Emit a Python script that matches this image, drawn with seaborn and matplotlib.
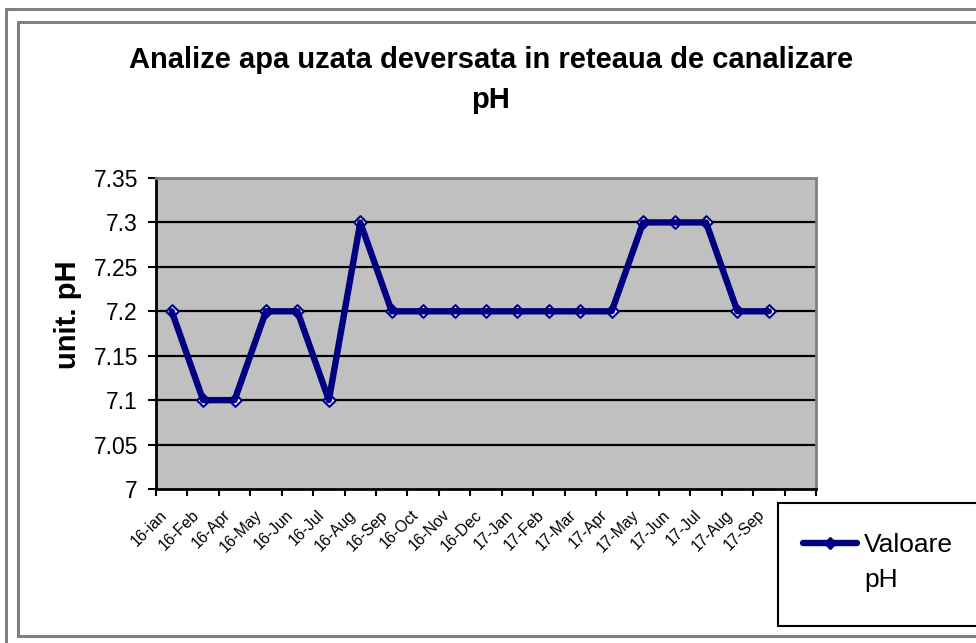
import matplotlib
matplotlib.use("Agg")
import matplotlib.pyplot as plt
from matplotlib.patches import Rectangle
from matplotlib.lines import Line2D
import seaborn as sns
import numpy as np

# ---- data ----
months = ["16-ian", "16-Feb", "16-Apr", "16-May", "16-Jun", "16-Jul", "16-Aug",
          "16-Sep", "16-Oct", "16-Nov", "16-Dec", "17-Jan", "17-Feb", "17-Mar",
          "17-Apr", "17-May", "17-Jun", "17-Jul", "17-Aug", "17-Sep"]
ph_values = [7.2, 7.1, 7.1, 7.2, 7.2, 7.1, 7.3, 7.2, 7.2, 7.2, 7.2, 7.2, 7.2,
             7.2, 7.2, 7.3, 7.3, 7.3, 7.2, 7.2]
y_ticks = [7.0, 7.05, 7.1, 7.15, 7.2, 7.25, 7.3, 7.35]
y_tick_labels = ["7", "7.05", "7.1", "7.15", "7.2", "7.25", "7.3", "7.35"]
title_lines = ["Analize apa uzata deversata in reteaua de canalizare", "pH"]
y_label = "unit. pH"
legend_label = ["Valoare", "pH"]

sns.set_style("white")
plt.rcParams["font.family"] = ["Liberation Sans", "DejaVu Sans"]
plt.rcParams["text.color"] = "black"
plt.rcParams["xtick.color"] = "black"
plt.rcParams["ytick.color"] = "black"
plt.rcParams["xtick.bottom"] = True
plt.rcParams["ytick.left"] = True

W, H = 976, 643
fig = plt.figure(figsize=(W / 100, H / 100), dpi=100)
fig.patch.set_facecolor("white")

def fx(px):
    return px / W

def fy(py):
    return 1 - py / H

# axes placement (pixels)
L, R, T, B = 156, 816, 178, 489
ax = fig.add_axes([fx(L), fy(B), fx(R) - fx(L), fy(T) - fy(B)])
ax.set_facecolor("#C0C0C0")

navy = "#000080"
xs = np.arange(len(months))

sns.scatterplot(x=xs, y=ph_values, ax=ax, marker="D", s=42, color="white",
                edgecolor=navy, linewidth=1.5, zorder=3, legend=False)
sns.lineplot(x=xs, y=ph_values, ax=ax, color=navy, lw=4.6, zorder=4,
             legend=False)

ax.set_xlim(-0.5, len(months) + 0.5)
ax.set_ylim(7.0, 7.35)
ax.set_yticks(y_ticks)
ax.set_yticklabels(y_tick_labels, fontsize=16.5, color="black")
# category labels, anchored slightly left of each category centre
ax.set_xticks(xs - 0.38)
ax.set_xticklabels(months, rotation=45, ha="right", va="top",
                   rotation_mode="anchor", fontsize=11.3, color="black")
ax.set_xticks(np.arange(-0.5, len(months) + 1, 1.0), minor=True)
ax.tick_params(axis="x", which="major", length=0, pad=13, bottom=True)
ax.tick_params(axis="x", which="minor", length=5, width=1.5, color="black",
               direction="out", bottom=True)
ax.tick_params(axis="y", length=6, width=1.5, color="black", direction="out",
               pad=7, left=True)
ax.set_xlabel("")
ax.set_ylabel("")

for yv in y_ticks[1:-1]:
    ax.axhline(yv, color="black", lw=1.6, zorder=1)

for side in ["left", "bottom"]:
    ax.spines[side].set_color("black")
    ax.spines[side].set_linewidth(2)
for side in ["top", "right"]:
    ax.spines[side].set_color("#808080")
    ax.spines[side].set_linewidth(2)
    ax.spines[side].set_visible(True)

# title & y label
fig.text(fx(491), fy(68), title_lines[0], ha="center", va="baseline",
         fontsize=21, fontweight="bold")
fig.text(fx(491), fy(108), title_lines[1], ha="center", va="baseline",
         fontsize=21, fontweight="bold")
fig.text(fx(68), fy(315), y_label, ha="center", va="center", rotation=90,
         fontsize=21, fontweight="bold")

# frames
gray = "#808080"
fig.add_artist(Line2D([fx(5.5), fx(5.5)], [fy(8.5), fy(643)], color=gray, lw=2.2))
fig.add_artist(Line2D([fx(5.5), fx(976)], [fy(8.5), fy(8.5)], color=gray, lw=2.2))
fig.add_artist(Line2D([fx(17.5), fx(17.5)], [fy(21.5), fy(635.5)], color=gray, lw=2.2))
fig.add_artist(Line2D([fx(17.5), fx(976)], [fy(21.5), fy(21.5)], color=gray, lw=2.2))
fig.add_artist(Line2D([fx(17.5), fx(976)], [fy(635.5), fy(635.5)], color=gray, lw=2.2))

# legend box
fig.add_artist(Rectangle((fx(778), fy(626)), fx(1000) - fx(778), fy(503) - fy(626),
                         facecolor="white", edgecolor="black", lw=1.5,
                         transform=fig.transFigure))
fig.add_artist(Line2D([fx(803), fx(857)], [fy(543), fy(543)], color=navy, lw=4.6))
fig.add_artist(Line2D([fx(830)], [fy(543)], color=navy, marker="D", ms=6,
                      mfc=navy, mec=navy, lw=0))
fig.text(fx(864), fy(545), legend_label[0], ha="left", va="center", fontsize=19)
fig.text(fx(864), fy(580), legend_label[1], ha="left", va="center", fontsize=19)

fig.savefig("out.png", dpi=100, facecolor="white")
